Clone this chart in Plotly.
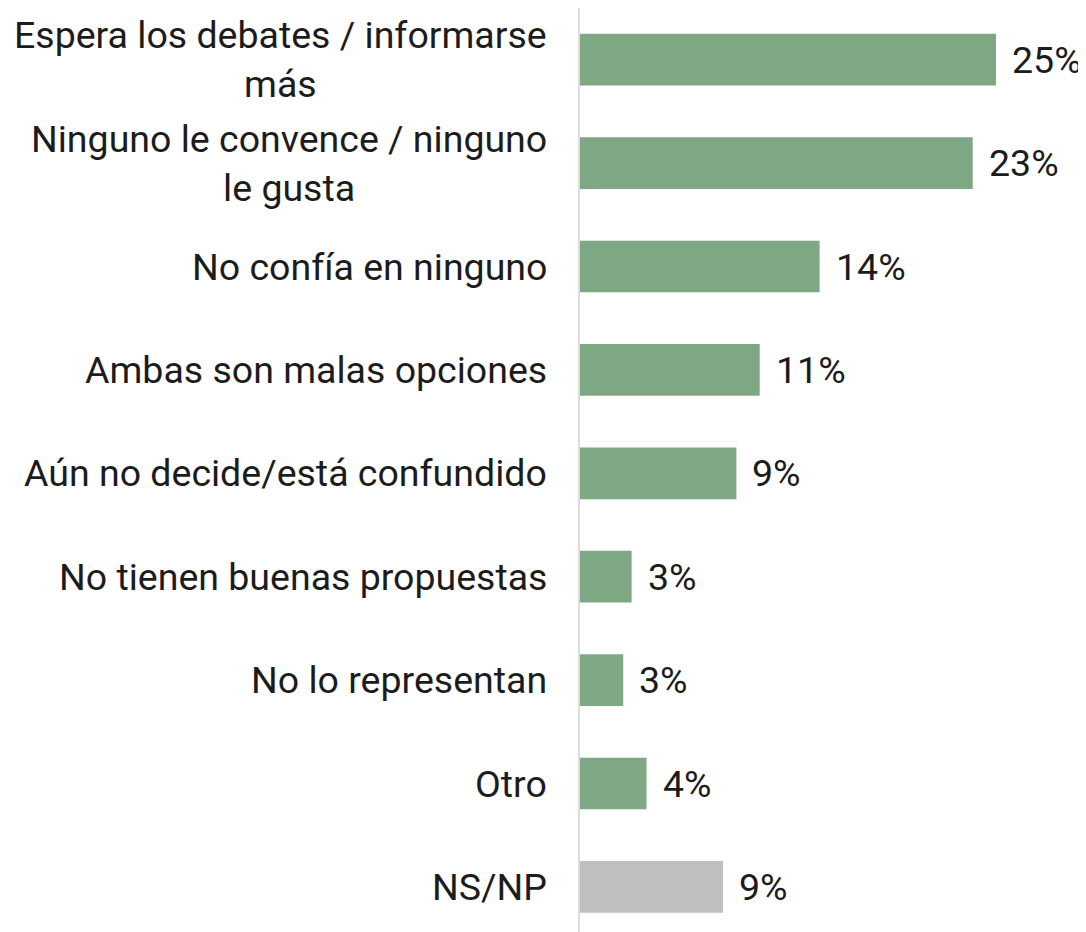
import plotly.graph_objects as go

categories = [
    "Espera los debates / informarse<br>más",
    "Ninguno le convence / ninguno<br>le gusta",
    "No confía en ninguno",
    "Ambas son malas opciones",
    "Aún no decide/está confundido",
    "No tienen buenas propuestas",
    "No lo representan",
    "Otro",
    "NS/NP",
]
values = [25.0, 23.6, 14.4, 10.8, 9.4, 3.1, 2.6, 4.0, 8.6]
value_labels = ["25%", "23%", "14%", "11%", "9%", "3%", "3%", "4%", "9%"]
colors = ["#7ea784"] * 8 + ["#bfbfbf"]

FONT = "Roboto"
TEXT_COLOR = "#1c1c1c"

fig = go.Figure()
fig.add_trace(go.Bar(
    y=categories,
    x=values,
    orientation="h",
    marker=dict(color=colors, line=dict(width=0)),
    width=0.5,
    hoverinfo="skip",
))

annotations = []
for cat in categories:
    annotations.append(dict(
        x=0, xref="paper", y=cat, yref="y",
        text=cat, showarrow=False, xanchor="right", yanchor="middle",
        align="center", xshift=-31,
        font=dict(family=FONT, size=37.5, color=TEXT_COLOR),
    ))
for cat, v, lab in zip(categories, values, value_labels):
    annotations.append(dict(
        x=v, xref="x", y=cat, yref="y",
        text=lab, showarrow=False, xanchor="left", yanchor="middle",
        xshift=14,
        font=dict(family=FONT, size=37.5, color=TEXT_COLOR),
    ))

fig.update_layout(
    width=1078, height=924,
    margin=dict(l=572, r=0, t=0, b=0),
    paper_bgcolor="white", plot_bgcolor="white",
    showlegend=False,
    annotations=annotations,
    xaxis=dict(range=[0, 30.41], showgrid=False, zeroline=False,
               showticklabels=False, showline=False, fixedrange=True),
    yaxis=dict(categoryorder="array", categoryarray=categories,
               range=[8.436, -0.5], showgrid=False, zeroline=False,
               showticklabels=False, ticks="", showline=True,
               linecolor="#dcdcdc", linewidth=2, fixedrange=True),
)

fig.write_html("out.html")
